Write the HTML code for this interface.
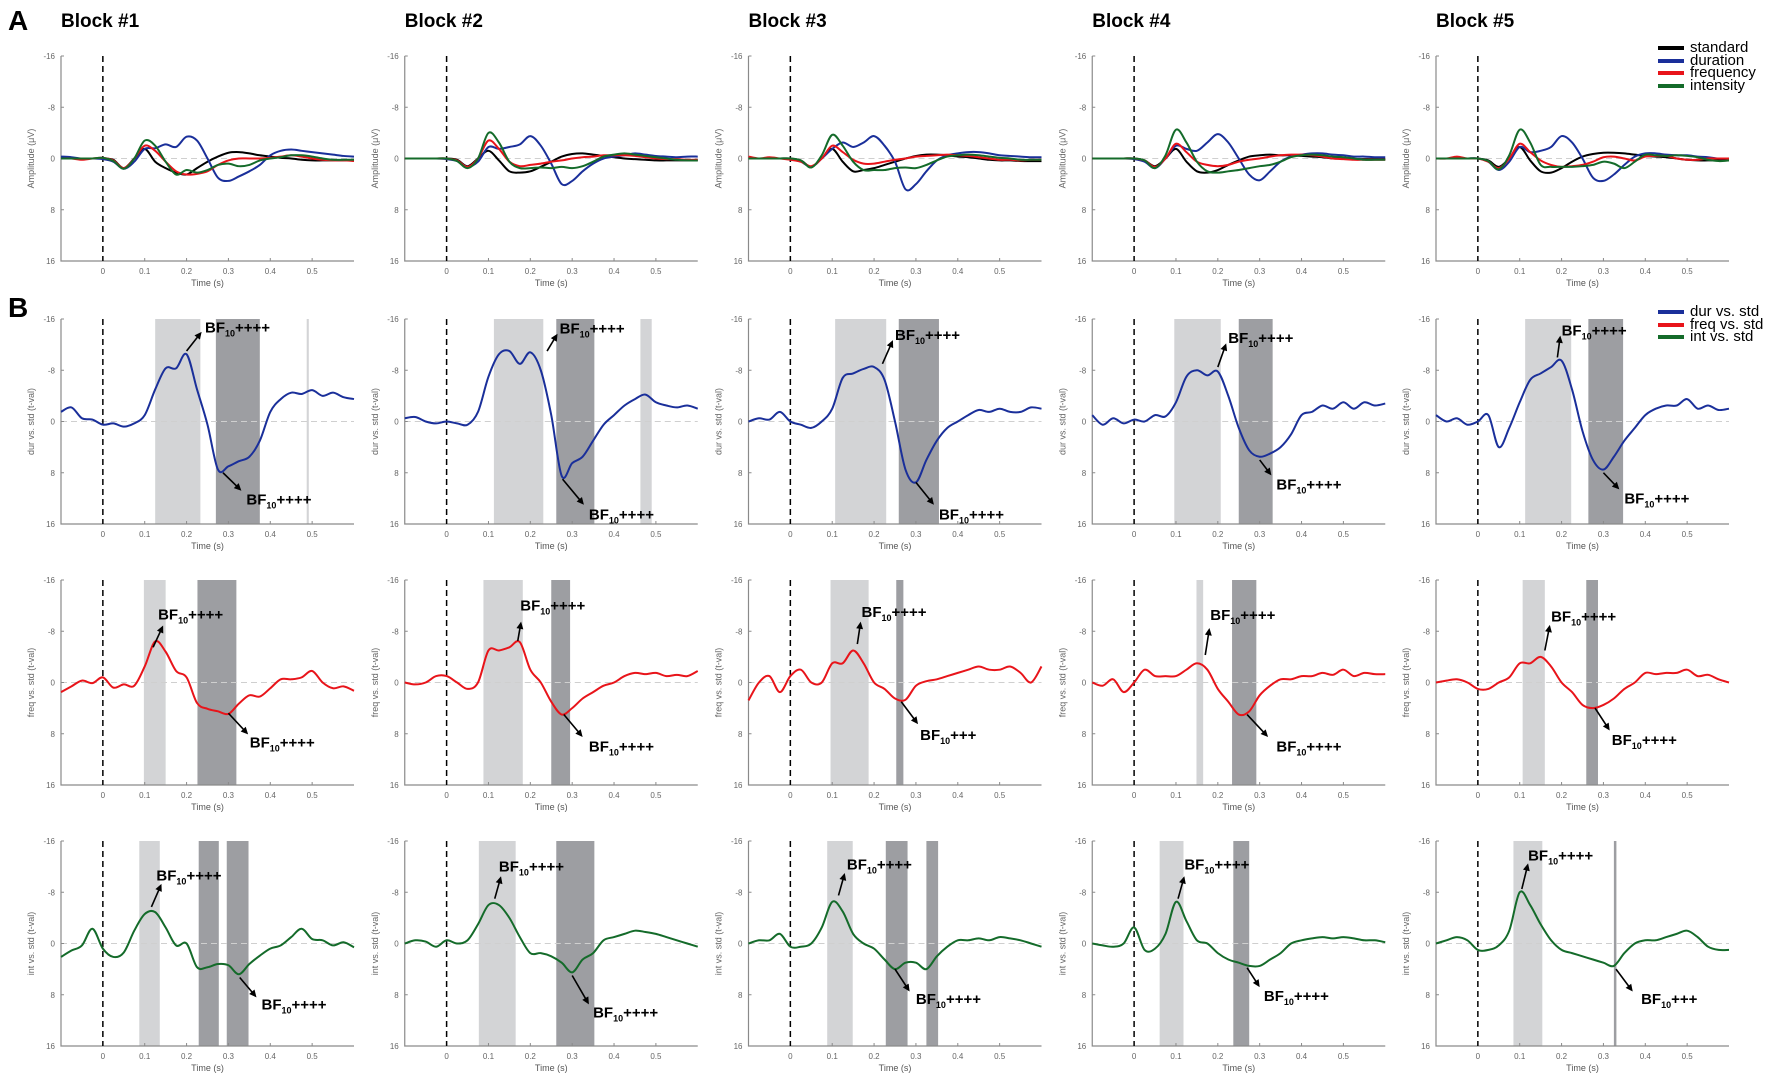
<!DOCTYPE html>
<html><head><meta charset="utf-8"><style>
html,body{margin:0;padding:0;background:#fff;}
svg{display:block;font-family:"Liberation Sans",sans-serif;}
</style></head><body>
<svg id="fig" width="1772" height="1077" viewBox="0 0 1772 1077" xmlns="http://www.w3.org/2000/svg">
<text x="8" y="30" font-size="28" font-weight="bold">A</text>
<text x="8" y="317" font-size="28" font-weight="bold">B</text>
<g id="plots"></g>
<g font-size="15">
<line x1="1658" y1="48" x2="1684" y2="48" stroke="#000" stroke-width="4"/><text x="1690" y="52">standard</text>
<line x1="1658" y1="61" x2="1684" y2="61" stroke="#1a2f9a" stroke-width="4"/><text x="1690" y="65">duration</text>
<line x1="1658" y1="73" x2="1684" y2="73" stroke="#e8141a" stroke-width="4"/><text x="1690" y="77">frequency</text>
<line x1="1658" y1="86" x2="1684" y2="86" stroke="#146b2a" stroke-width="4"/><text x="1690" y="90">intensity</text>
</g>
<g font-size="15">
<line x1="1658" y1="312" x2="1684" y2="312" stroke="#1a2f9a" stroke-width="4"/><text x="1690" y="316">dur vs. std</text>
<line x1="1658" y1="325" x2="1684" y2="325" stroke="#e8141a" stroke-width="4"/><text x="1690" y="329">freq vs. std</text>
<line x1="1658" y1="337" x2="1684" y2="337" stroke="#146b2a" stroke-width="4"/><text x="1690" y="341">int vs. std</text>
</g>
</svg>
<script>
const blockTitles = ["Block #1","Block #2","Block #3","Block #4","Block #5"];
const xTicks = [0,0.1,0.2,0.3,0.4,0.5];
const xTickLabels = ["0","0.1","0.2","0.3","0.4","0.5"];
const yTicks = [-16,-8,0,8,16];
const yTickLabels = ["-16","-8","0","8","16"];
const timeStart = -0.1, timeStep = 0.025;
// Row A: ERPs (uV), per block
const aStd = [
[0,0,0,0,0,0.2,1.5,0,-1.5,0.5,1.5,2.2,2.5,1.5,0.5,-0.3,-0.9,-1,-0.8,-0.5,-0.3,-0.1,0,0.2,0.3,0.3,0.3,0.3,0.3],
[0,0,0,0,0,0.2,1.2,0,-1.2,0.3,2,2.2,2,1.3,0.5,-0.3,-0.7,-0.8,-0.6,-0.4,-0.2,0,0.1,0.2,0.3,0.3,0.3,0.3,0.3],
[0,0,0,0,0,0.3,1.3,0,-1.5,0.5,2,1.8,1.5,1,0.5,0,-0.4,-0.6,-0.6,-0.5,-0.3,-0.2,0,0.2,0.3,0.3,0.4,0.4,0.4],
[0,0,0,0,0,0.3,1.2,0,-1.5,0.5,2,2.2,1.8,1,0.3,-0.3,-0.5,-0.6,-0.5,-0.5,-0.4,-0.3,-0.2,0,0,0.1,0.1,0.1,0.1],
[0,0,0,0,0,0.3,1.3,0,-1.8,0.3,2,2.2,1.5,0.5,-0.3,-0.7,-0.9,-0.9,-0.8,-0.6,-0.4,-0.3,-0.2,0,0.2,0.3,0.3,0.3,0.3]];
const aDur = [
[-0.3,-0.2,0,0,0.1,0.5,1.6,0.5,-1.5,-1.6,-2.2,-1.8,-3.4,-2.8,0,3,3.5,2.8,2,1,-0.5,-1.2,-1.4,-1.2,-1,-0.8,-0.6,-0.4,-0.3],
[0,0,0,0,0.1,0.4,1.3,0.5,-1.8,-1.5,-1.8,-2.2,-3.5,-2,0.8,4,3.5,2,0.8,0,-0.3,-0.5,-0.8,-0.6,-0.4,-0.3,-0.2,-0.3,-0.3],
[0,0,0,0,0.1,0.5,1.3,0,-1.5,-2.5,-1.8,-2.5,-3.5,-2,0.5,4.8,4,2,0.3,-0.5,-0.8,-1,-1,-0.8,-0.5,-0.4,-0.3,-0.2,-0.2],
[0,0,0,0,0.1,0.5,1.5,0,-2,-1.5,-1.2,-2.5,-3.8,-2.5,0,2.5,3.4,2,0.5,-0.3,-0.6,-0.8,-0.8,-0.6,-0.5,-0.3,-0.3,-0.2,-0.2],
[0,0,0,0,0,0.5,1.8,0.5,-1.8,-1,-1.2,-1.8,-3.5,-2.5,0,3,3.5,2.5,1,-0.3,-0.8,-0.8,-0.6,-0.5,-0.5,-0.3,-0.2,0,0]];
const aFreq = [
[0,0,0.2,0,-0.1,0.3,1.5,0,-2,-1.2,0.5,2,2.5,2.4,2,1,0.3,0,0,0,-0.1,-0.3,-0.5,-0.3,0,0.2,0.3,0.3,0.4],
[0,0,0,0,0,0.3,1.3,0,-2.8,-1.5,0.5,1.2,1,0.8,0.5,0.3,0,-0.2,-0.3,-0.5,-0.5,-0.5,-0.4,-0.2,0,0.1,0.1,0.2,0.2],
[-0.3,0,-0.2,0,0.2,0.5,1.2,0,-2,-1,0.2,0.8,0.8,0.5,0.2,0,-0.3,-0.4,-0.5,-0.6,-0.5,-0.4,-0.2,0,0.2,0.2,0.3,0.2,0.2],
[0,0,0,0,0,0.3,1.3,0,-2.3,-1,0.5,1,1.2,1,0.5,0.2,0,-0.3,-0.5,-0.6,-0.6,-0.5,-0.3,0,0.1,0.2,0.2,0.2,0.2],
[0,0,-0.3,0,0,0.5,1.5,0,-2.3,-1,0.3,1,1.3,1.2,1,0.5,-0.2,-0.3,0,0.3,-0.3,-0.4,-0.4,0,0.2,0.2,0,0,0]];
const aInt = [
[0,0,0,0,-0.1,0.4,1.6,0,-2.8,-2,0.5,2.5,1.8,2.2,1.8,1,0.8,1.2,1,0.3,0,-0.2,-0.5,-0.5,-0.3,0,0.2,0.2,0.2],
[0,0,0,0,0,0.4,1.5,0,-4,-2.5,0.5,1.5,1.5,1.4,1.5,1.3,1.5,1.2,0.5,-0.3,-0.6,-0.8,-0.6,-0.4,-0.2,0,0.2,0.3,0.3],
[0,0,0,0,0,0.3,1.4,-0.5,-3.7,-2,0.5,1.8,1.8,1.8,1.5,1.4,1.5,1,0.3,-0.3,-0.5,-0.6,-0.5,-0.3,-0.1,0,0.2,0.2,0.2],
[0,0,0,0,0,0.3,1.5,-0.5,-4.5,-2.5,0.5,2,2.2,2,1.8,1.5,1.2,1,0.5,-0.2,-0.5,-0.6,-0.5,-0.3,-0.2,0,0.2,0.2,0.2],
[0,0,0,0,0,0.4,1.7,-0.5,-4.5,-2.5,1,1.3,1.3,1.3,1.2,1,0.5,0.8,1.5,0.5,-0.6,-0.5,-0.4,-0.5,-0.4,-0.2,0.2,0.4,0.3]];
// Row B: t-values
const bDur = [
[-1.5,-2.2,-0.5,-0.3,0.5,0.3,0.8,0.3,-1,-5,-8.3,-8.3,-10.5,-5,0.5,7.5,7,6.2,5.5,3,-1.5,-3.5,-4.5,-4.3,-4.9,-4,-4.5,-3.8,-3.5],
[-0.5,-0.7,0,0.3,0,0.3,0.5,-1.5,-7,-10.5,-11,-9,-10.8,-8,-1,8.5,6.5,5.5,3,0.5,-1,-2.5,-3.5,-4.2,-3,-2.5,-2.2,-2.5,-2],
[0,-0.5,-0.3,-1.5,0,0.5,1,0,-2,-6.8,-7.5,-8.2,-8.5,-6.5,0,7.5,9.5,6,3,1,0,-1,-1.8,-1.5,-2,-1.5,-1.5,-2.2,-2],
[-1,0.5,-0.5,0.3,-0.3,0,-1,-0.8,-3,-7,-8,-7.2,-7.8,-4,1,4.5,5.5,5,4,2,-1,-1.5,-2.5,-2,-3,-2,-3,-2.5,-2.8],
[-1,0,-0.5,0.5,0,-1,4,1,-3,-6.5,-7.5,-8.5,-9.5,-5,1.5,6,7.5,5.5,3,1,-1,-2,-2.5,-2.5,-3.5,-2,-2.5,-1.8,-2]];
const bFreq = [
[1.5,0.6,-0.3,0.1,-0.8,0.8,0.3,0.5,-2.5,-6.4,-4.8,-1.8,-0.8,3.2,4.1,4.5,4.9,3.3,2,2.2,0.9,-0.5,-0.5,-0.8,-1.8,0,0.9,0.6,1.3],
[0,0.3,0,-1,-1,0,1,0,-5,-5,-5.5,-6.3,-2,0,3,5,4,2.5,1.5,0.5,0,-1,-1.5,-1.3,-1.5,-1,-1.2,-1,-1.8],
[2.8,0,-1,1.5,-1,-2,0,0,-3,-3,-5,-3,0,1,2.5,2.7,0.5,-0.2,-0.5,-1,-1.5,-2,-2.5,-2,-2,-2.5,-1.5,0,-2.5],
[0,0.5,-0.5,1.5,0,-2,-1,-1,-1,-2,-3,-2,1,3,5,4.5,2,0.5,-0.5,-0.5,-1,-1,-1.5,-1.2,-2,-1,-1.5,-1.3,-1.3],
[0,-0.3,-0.5,0,1,1,0,-0.8,-3,-3,-4,-2.5,0,1.5,3.5,4,3.5,2.5,1,0,-1.5,-1.3,-1.5,-1.5,-2,-1,-1.2,-0.5,0]];
const bInt = [
[2.1,1.1,0.3,-2.3,0.8,2.1,1.4,-2,-4.6,-4.9,-2.5,0.3,0,3.7,3.7,3.2,3.4,4.8,3.2,1.9,0.8,0.3,-1,-2.3,-0.7,-0.5,0.3,-0.2,0.6],
[0,-0.5,-0.3,0.5,-0.5,0,-0.5,-3,-6,-6,-4,-1,1.5,1.5,2,3,4.5,2.5,1.5,-0.5,-1,-1.5,-2,-1.8,-1.5,-1,-0.5,0,0.5],
[0,-0.5,-0.5,-1.5,0.5,0.5,0,-2.5,-6.5,-5,-1.5,0,0.8,2.5,4,3,3,4,2,0.5,-0.5,-0.5,-0.8,-0.5,-1,-0.8,-0.5,0,0.5],
[0,0.3,0.5,0,-2.5,1,0.8,-1.5,-6.5,-3.5,-0.5,0,1.5,2.5,3,3.5,3.5,2.5,1.5,0,-0.5,-0.8,-1,-0.8,-1,-0.8,-0.5,-0.5,-0.2],
[0,-0.5,-1,-0.5,1,1,0.3,-2,-8,-6,-3,-0.5,1,1.5,2,2.5,3,3.5,1.5,0,-0.5,-0.5,-1,-1.5,-2,-1,0.5,1,1]];
// Bayes-factor shaded windows [start, end, kind]
const bDurShades = [
[[0.125,0.233,"l"],[0.27,0.375,"d"],[0.487,0.492,"l"]],
[[0.113,0.231,"l"],[0.262,0.353,"d"],[0.463,0.49,"l"]],
[[0.107,0.229,"l"],[0.259,0.355,"d"]],
[[0.096,0.207,"l"],[0.25,0.331,"d"]],
[[0.113,0.223,"l"],[0.264,0.347,"d"]]];
const bFreqShades = [
[[0.098,0.15,"l"],[0.226,0.319,"d"]],
[[0.088,0.182,"l"],[0.25,0.295,"d"]],
[[0.096,0.187,"l"],[0.253,0.27,"d"]],
[[0.149,0.165,"l"],[0.234,0.292,"d"]],
[[0.107,0.16,"l"],[0.259,0.287,"d"]]];
const bIntShades = [
[[0.087,0.136,"l"],[0.229,0.277,"d"],[0.296,0.348,"d"]],
[[0.077,0.165,"l"],[0.262,0.353,"d"]],
[[0.088,0.149,"l"],[0.228,0.28,"d"],[0.325,0.353,"d"]],
[[0.061,0.118,"l"],[0.237,0.275,"d"]],
[[0.085,0.154,"l"],[0.325,0.331,"d"]]];
// annotations [t0,v0,t1,v1,labelT,labelV,suffix]
const bDurNotes = [
[[0.2,-11,0.236,-14,0.244,-14.7,"++++"],[0.287,8,0.331,10.8,0.343,12.2,"++++"]],
[[0.24,-11,0.265,-13.7,0.27,-14.5,"++++"],[0.277,9,0.328,13,0.34,14.5,"++++"]],
[[0.22,-9,0.245,-12.7,0.25,-13.5,"++++"],[0.3,9.5,0.343,13,0.355,14.5,"++++"]],
[[0.2,-8.5,0.22,-12.2,0.225,-13,"++++"],[0.3,6,0.328,8.4,0.34,9.8,"++++"]],
[[0.19,-10,0.197,-13.4,0.2,-14.2,"++++"],[0.3,8,0.338,10.6,0.35,12,"++++"]]];
const bFreqNotes = [
[[0.12,-5.5,0.144,-8.9,0.132,-10.6,"++++"],[0.3,4.8,0.347,8.1,0.351,9.4,"++++"]],
[[0.17,-6.5,0.178,-9.5,0.176,-12,"++++"],[0.28,5,0.325,8.5,0.34,10,"++++"]],
[[0.16,-6,0.168,-9.5,0.17,-11,"++++"],[0.265,3,0.305,6.5,0.31,8.2,"+++"]],
[[0.17,-4.3,0.18,-8.5,0.182,-10.5,"++++"],[0.27,5,0.32,8.5,0.34,10,"++++"]],
[[0.16,-5,0.172,-9,0.175,-10.3,"++++"],[0.28,4,0.315,7.5,0.32,9,"++++"]]];
const bIntNotes = [
[[0.116,-5.7,0.14,-9.3,0.128,-10.6,"++++"],[0.327,5.3,0.367,8.4,0.379,9.5,"++++"]],
[[0.115,-7,0.13,-10.5,0.125,-12,"++++"],[0.3,5,0.34,9.5,0.35,10.8,"++++"]],
[[0.115,-7.5,0.13,-11,0.135,-12.3,"++++"],[0.25,4,0.285,7.5,0.3,8.7,"++++"]],
[[0.105,-7,0.12,-10.5,0.12,-12.3,"++++"],[0.27,3.8,0.3,6.8,0.31,8.2,"++++"]],
[[0.105,-8.5,0.12,-12.5,0.12,-13.7,"++++"],[0.33,4,0.37,7.5,0.39,8.7,"+++"]]];

const NS="http://www.w3.org/2000/svg";
const root=document.getElementById("plots");
const COL={std:"#000",dur:"#1a2f9a",freq:"#e8141a",int:"#146b2a"};
const rowTops=[56,319,580,841], H=205, W=293;
function mk(tag,attrs,parent){const e=document.createElementNS(NS,tag);for(const k in attrs)e.setAttribute(k,attrs[k]);(parent||root).appendChild(e);return e;}
function panel(b,r,series,shades,notes,ytitle){
  const x0=61+343.75*b, top=rowTops[r];
  const xs=t=>x0+(t+0.1)/0.7*W;
  const ys=v=>top+(v+16)/32*H;
  const g=mk("g",{});
  
  
  (shades||[]).forEach(s=>{
    const rc=mk("rect",{x:xs(s[0]),y:top,width:Math.max(1.5,xs(s[1])-xs(s[0])),height:H,fill:s[2]==="l"?"#d3d4d6":"#9d9ea2"},g);
    
    
  });
  mk("line",{x1:x0,x2:x0+W,y1:ys(0),y2:ys(0),stroke:"#cfcfcf","stroke-dasharray":"6,4","stroke-width":1},g);
  const ax=mk("path",{d:`M${x0},${top}V${top+H}H${x0+W}`,fill:"none",stroke:"#8a8a8a","stroke-width":1.2},g);
  
  
  xTicks.forEach((t,i)=>{
    mk("line",{x1:xs(t),x2:xs(t),y1:top+H,y2:top+H-3,stroke:"#8a8a8a"},g);
    const tx=mk("text",{x:xs(t),y:top+H+13,"font-size":8,fill:"#666","text-anchor":"middle"},g);
    tx.textContent=xTickLabels[i];
    
    
  });
  yTicks.forEach((v,i)=>{
    mk("line",{x1:x0,x2:x0+3,y1:ys(v),y2:ys(v),stroke:"#8a8a8a"},g);
    const tx=mk("text",{x:x0-6,y:ys(v)+3,"font-size":8,fill:"#666","text-anchor":"end"},g);
    tx.textContent=yTickLabels[i];
    
    
  });
  const xt=mk("text",{x:xs(0.25),y:top+H+25,"font-size":9,fill:"#555","text-anchor":"middle"},g);
  xt.textContent="Time (s)";
  
  
  const yt=mk("text",{x:0,y:0,"font-size":9,fill:"#666","text-anchor":"middle",transform:`translate(${x0-27},${top+H/2}) rotate(-90)`},g);
  yt.textContent=ytitle;
  
  
  mk("line",{x1:xs(0),x2:xs(0),y1:top,y2:top+H,stroke:"#000","stroke-width":1.5,"stroke-dasharray":"6,4"},g);
  series.forEach(s=>{
    const pts=s.vals.map((v,i)=>[xs(timeStart+i*timeStep),ys(v)]);
    let d=`M${pts[0][0]},${pts[0][1]}`;
    for(let i=0;i<pts.length-1;i++){
      const p0=pts[Math.max(0,i-1)],p1=pts[i],p2=pts[i+1],p3=pts[Math.min(pts.length-1,i+2)];
      d+=`C${p1[0]+(p2[0]-p0[0])/6},${p1[1]+(p2[1]-p0[1])/6} ${p2[0]-(p3[0]-p1[0])/6},${p2[1]-(p3[1]-p1[1])/6} ${p2[0]},${p2[1]}`;
    }
    const p=mk("path",{d:d,fill:"none",stroke:s.col,"stroke-width":2},g);
    
    
  });
  (notes||[]).forEach(n=>{
    const X0=xs(n[0]),Y0=ys(n[1]),X1=xs(n[2]),Y1=ys(n[3]);
    const ang=Math.atan2(Y1-Y0,X1-X0),L=8,w=0.45;
    mk("line",{x1:X0,y1:Y0,x2:X1-Math.cos(ang)*5,y2:Y1-Math.sin(ang)*5,stroke:"#000","stroke-width":1.6},g);
    const ah=mk("polygon",{points:`${X1},${Y1} ${X1-L*Math.cos(ang-w)},${Y1-L*Math.sin(ang-w)} ${X1-L*Math.cos(ang+w)},${Y1-L*Math.sin(ang+w)}`,fill:"#000"},g);
    
    
    const tx=mk("text",{x:xs(n[4]),y:ys(n[5])+5,"font-size":15,"font-weight":"bold",fill:"#000"},g);
    
    
    const a=mk("tspan",{},tx);a.textContent="BF";
    const sb=mk("tspan",{"font-size":9,dy:4},tx);sb.textContent="10";
    const c=mk("tspan",{dy:-4},tx);c.textContent=n[6];
  });
}
for(let b=0;b<5;b++){
  const t=mk("text",{x:61+343.75*b,y:27,"font-size":19,"font-weight":"bold"});
  t.textContent=blockTitles[b];
  
  
  panel(b,0,[{vals:aStd[b],col:COL.std,name:"standard"},{vals:aDur[b],col:COL.dur,name:"duration"},{vals:aFreq[b],col:COL.freq,name:"frequency"},{vals:aInt[b],col:COL.int,name:"intensity"}],[],[],"Amplitude (\u03bcV)");
  panel(b,1,[{vals:bDur[b],col:COL.dur,name:"dur-vs-std"}],bDurShades[b],bDurNotes[b],"dur vs. std (t-val)");
  panel(b,2,[{vals:bFreq[b],col:COL.freq,name:"freq-vs-std"}],bFreqShades[b],bFreqNotes[b],"freq vs. std (t-val)");
  panel(b,3,[{vals:bInt[b],col:COL.int,name:"int-vs-std"}],bIntShades[b],bIntNotes[b],"int vs. std (t-val)");
}
</script>
</body></html>
